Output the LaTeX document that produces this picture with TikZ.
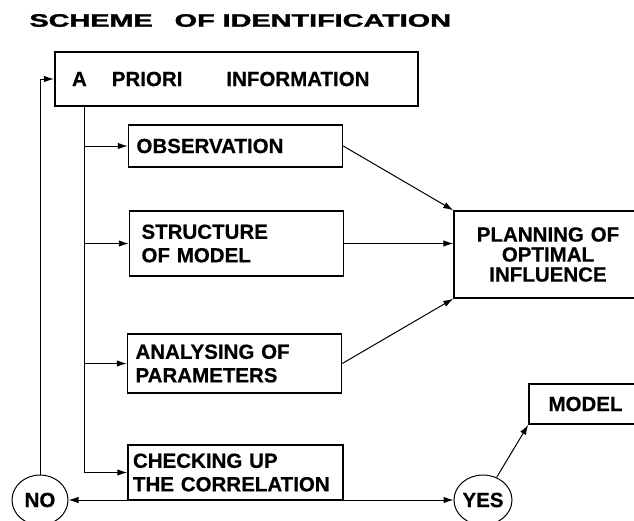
\documentclass[tikz,border=0pt]{standalone}
\usepackage{fontspec}
\setmainfont[BoldFeatures={FakeBold=0.5}]{Liberation Sans}
\newfontfamily\headfont[FakeBold=1.5]{Liberation Sans Bold}
\usepackage{graphicx}
\usetikzlibrary{arrows.meta}
\usetikzlibrary{shapes.geometric}
\usetikzlibrary{positioning}

\begin{document}
\begin{tikzpicture}[x=1pt, y=-1pt, line width=1pt, >={Latex[length=10pt,width=6.5pt]},
  font=\bfseries\fontsize{20.5}{23.5}\selectfont,
  block/.style={draw, line width=1.5pt, inner xsep=8pt, inner ysep=0pt, text width=198pt, align=left},
  answer/.style={draw, ellipse, line width=1pt, minimum width=56pt, minimum height=50pt, inner sep=0pt}]

\useasboundingbox (0,0) rectangle (634,520);

\node[anchor=west, inner sep=0pt, font=\headfont\fontsize{18}{18}\selectfont] (title) at (29,20.5) {\scalebox{1.6}[1]{SCHEME\hspace{8.75pt} OF IDENTIFICATION}};

\node[block, line width=2.2pt, inner xsep=17pt, text width=329pt, minimum height=54pt] (info) at (236.5,79) {A\hspace{25pt}PRIORI\hspace{44pt}INFORMATION};
\coordinate[right=31pt of info.south west] (trunk);

\node[block, minimum height=42pt] (obs) at (235.5,146) {OBSERVATION};
\node[block, minimum height=65pt, inner xsep=12pt, text width=190pt] (struct) at (236.5,243.5) {STRUCTURE\\OF MODEL};
\node[block, minimum height=59pt] (param) at (234.5,363.5) {ANALYSING OF\\PARAMETERS};
\node[block, minimum height=55pt, inner xsep=5pt, text width=205pt] (check) at (235.5,472.5) {CHECKING UP\\THE CORRELATION};

\node[block, align=center, text width=172pt, minimum height=87pt, font=\bfseries\fontsize{20.5}{20}\selectfont] (plan) at (548,254.5) {PLANNING OF\\OPTIMAL\\INFLUENCE};
\node[block, align=center, text width=97pt, minimum height=40pt] (model) at (585.5,404) {MODEL};

\node[answer] (no) at (40,500) {NO};
\node[answer] (yes) at (483,500) {YES};

\draw[->] (no) |- (info);
\draw[->] (trunk) |- (check);
\draw[->] (trunk |- obs) -- (obs);
\draw[->] (trunk |- struct) -- (struct);
\draw[->] (trunk |- param) -- (param);

\draw[->] (obs.east) -- (plan.north west);
\draw[->] (struct) -- (struct -| plan.west);
\draw[->] (param.east) -- (plan.south west);

\draw[<->] (no) -- (yes);
\draw[->] (yes) -- (model.south west);

\end{tikzpicture}
\end{document}
